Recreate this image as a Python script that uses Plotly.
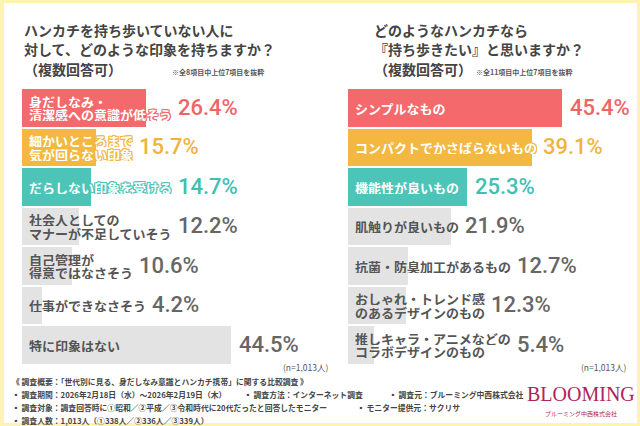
import plotly.graph_objects as go

# ---------------- data ----------------
left_labels = ["身だしなみ・\n清潔感への意識が低そう", "細かいところまで\n気が回らない印象", "だらしない印象を受ける",
               "社会人としての\nマナーが不足していそう", "自己管理が\n得意ではなさそう", "仕事ができなさそう", "特に印象はない"]
left_values = [26.4, 15.7, 14.7, 12.2, 10.6, 4.2, 44.5]

right_labels = ["シンプルなもの", "コンパクトでかさばらないもの", "機能性が良いもの", "肌触りが良いもの",
                "抗菌・防臭加工があるもの", "おしゃれ・トレンド感\nのあるデザインのもの", "推しキャラ・アニメなどの\nコラボデザインのもの"]
right_values = [45.4, 39.1, 25.3, 21.9, 12.7, 12.3, 5.4]

left_title = ["ハンカチを持ち歩いていない人に", "対して、どのような印象を持ちますか？", "（複数回答可）"]
right_title = ["どのようなハンカチなら", "『持ち歩きたい』と思いますか？", "（複数回答可）"]
left_note = "※全8項目中上位7項目を抜粋"
right_note = "※全11項目中上位7項目を抜粋"
n_text = "(n=1,013人)"

footer = [
    ("《 調査概要：「世代別に見る、身だしなみ意識とハンカチ携帯」に関する比較調査 》", 10, 381),
    ("▪ 調査期間：2026年2月18日（水）～2026年2月19日（木）", 10, 394),
    ("▪ 調査方法：インターネット調査", 242, 394),
    ("▪ 調査元：ブルーミング中西株式会社", 387, 394),
    ("▪ 調査対象：調査回答時に①昭和／②平成／③令和時代に20代だったと回答したモニター", 10, 407),
    ("▪ モニター提供元：サクリサ", 355, 407),
    ("▪ 調査人数：1,013人（①338人／②336人／③339人）", 10, 420),
]

# ---------------- style ----------------
W, H = 640, 426
PX_PER = 4.7
LEFT0, RIGHT0 = 22, 348.3
ROW0, PITCH = 108, 39.5
JP = "Noto Sans CJK JP"
NUM = "Roboto"
LABEL_SIZE = 13
LINE_GAP = 13.5

bar_colors = ["#F4696B", "#F3B742", "#4CC5B8", "#E3E3E3", "#E3E3E3", "#E3E3E3", "#E3E3E3"]
label_colors = ["#FFFFFF", "#FFFFFF", "#FFFFFF", "#555555", "#555555", "#555555", "#555555"]
value_colors = ["#EF6466", "#EFB43E", "#41BFB2", "#666666", "#666666", "#666666", "#666666"]
YELLOW = "#FFF3B3"

fig = go.Figure()
annotations = []


def outline(c):
    return f"-1px -1px 0 {c}, 1px -1px 0 {c}, -1px 1px 0 {c}, 1px 1px 0 {c}, 0 1px 0 {c}, 0 -1px 0 {c}, 1px 0 0 {c}, -1px 0 0 {c}"


def panel(labels, values, xa):
    idx = list(range(len(values)))
    fig.add_trace(go.Bar(x=values, y=idx, orientation="h", xaxis=xa, yaxis="y",
                         marker=dict(color=bar_colors, line=dict(width=0)),
                         width=0.94, hoverinfo="skip", showlegend=False))
    for i, (lab, v) in enumerate(zip(labels, values)):
        lines = lab.split("\n")
        n = len(lines)
        shadow = outline(bar_colors[i]) if label_colors[i] == "#FFFFFF" else "none"
        for j, line in enumerate(lines):
            annotations.append(dict(x=0, y=i, xref=xa, yref="y", text=line, showarrow=False,
                                    xanchor="left", yanchor="middle", xshift=5, height=13,
                                    yshift=-(j - (n - 1) / 2) * LINE_GAP,
                                    font=dict(family=JP, size=LABEL_SIZE, color=label_colors[i],
                                              weight="bold", shadow=shadow)))
        label_end = (5 + max(len(l) for l in lines) * LABEL_SIZE) / PX_PER
        annotations.append(dict(x=max(v, label_end), y=i, xref=xa, yref="y", text=f"{v:.1f}%",
                                showarrow=False, xanchor="left", yanchor="middle", xshift=6, yshift=1,
                                font=dict(family=NUM, size=22, color=value_colors[i], weight=500)))


panel(left_labels, left_values, "x")
panel(right_labels, right_values, "x2")


def ptext(text, px, py, size, color, anchor="left", weight="normal", family=JP):
    annotations.append(dict(x=px / W, y=1 - py / H, xref="paper", yref="paper", text=text,
                            showarrow=False, xanchor=anchor, yanchor="middle",
                            font=dict(family=family, size=size, color=color, weight=weight)))


for k, t in enumerate(left_title):
    ptext(t, 22, 30 + k * 19.5, 14, "#444444", weight="bold")
for k, t in enumerate(right_title):
    ptext(t, 372, 30 + k * 19.5, 14, "#444444", weight="bold")
ptext(left_note, 170, 72, 7, "#555555", weight="bold")
ptext(right_note, 474, 72, 7, "#555555", weight="bold")
ptext(n_text, 281, 367, 8.5, "#555555")
ptext(n_text, 579, 367, 8.5, "#555555")
for t, px, py in footer:
    ptext(t, px, py, 7.8, "#444444", weight="bold")
ptext("BLOOMING", 581, 394, 20, "#B0245A", anchor="center", family="Liberation Serif")
ptext("ブルーミング中西株式会社", 581, 413, 6, "#B0245A", anchor="center")

fig.update_layout(
    width=W, height=H, margin=dict(l=0, r=0, t=0, b=0),
    paper_bgcolor=YELLOW, plot_bgcolor="rgba(0,0,0,0)",
    bargap=0, annotations=annotations,
    xaxis=dict(domain=[0, 0.5], range=[-LEFT0 / PX_PER, (W / 2 - LEFT0) / PX_PER], visible=False, fixedrange=True),
    xaxis2=dict(domain=[0.5, 1], range=[-(RIGHT0 - W / 2) / PX_PER, (W - RIGHT0) / PX_PER], visible=False,
                anchor="y", fixedrange=True),
    yaxis=dict(domain=[0, 1], range=[(H - ROW0) / PITCH, -ROW0 / PITCH], visible=False, fixedrange=True),
    shapes=[dict(type="rect", xref="paper", yref="paper", x0=4 / W, x1=1 - 3 / W, y0=3 / H, y1=1 - 3 / H,
                 fillcolor="#FFFFFF", line=dict(width=0), layer="below")],
)

fig.write_html("out.html", config={"displayModeBar": False},
               post_script="document.body.style.margin='0';document.body.style.overflow='hidden';")
